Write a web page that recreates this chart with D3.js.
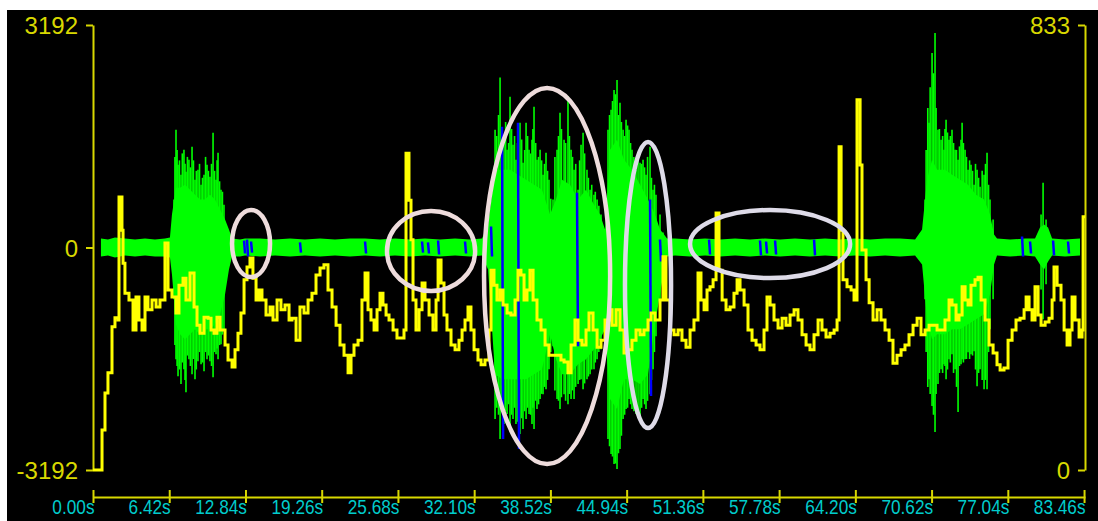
<!DOCTYPE html>
<html><head><meta charset="utf-8">
<script src="https://cdn.jsdelivr.net/npm/d3@7"></script>
<style>html,body{margin:0;padding:0;background:#fff;overflow:hidden}svg{display:block}</style>
</head><body>
<svg id="c" width="1098" height="521"></svg>
<script>
// ---------------- DATA ----------------
const timeTicks = [0, 6.42, 12.84, 19.26, 25.68, 32.10, 38.52, 44.94, 51.36, 57.78, 64.20, 70.62, 77.04, 83.46];
const ampTicks = [-3192, 0, 3192];
const pitchTicks = [0, 833];
const timeMax = 83.54;

// waveform body envelope: [time s, max, min]
const waveCore = [
[0.67,129,-129],[1.26,114,-114],[1.85,143,-143],[2.69,129,-114],[3.54,114,-129],[4.38,129,-114],[5.22,114,-129],[6.06,129,-129],
[6.48,143,-143],[6.65,472,-386],[6.99,858,-1102],[7.33,858,-1245],[7.75,902,-1317],[8.17,830,-1245],[8.59,758,-1173],[9.01,687,-1245],
[9.43,687,-1173],[9.85,758,-1173],[10.27,687,-1102],[10.70,544,-958],[11.12,401,-672],[11.45,258,-315],[11.71,129,-129],[12.38,114,-129],
[12.80,129,-114],[14.06,129,-129],[15.33,114,-114],[16.59,129,-129],[17.85,114,-114],[19.12,129,-129],[20.38,114,-114],[21.64,129,-129],
[22.91,129,-114],[24.17,114,-129],[25.43,129,-114],[26.70,114,-129],[27.96,129,-114],[29.22,114,-129],[30.49,129,-114],[31.75,114,-129],
[32.76,129,-114],[33.27,329,-315],[33.86,1116,-1817],[34.45,1116,-1889],[35.12,1116,-1889],[35.79,1045,-1889],[36.47,973,-1889],[37.14,902,-1817],
[37.81,830,-1746],[38.49,472,-1245],[38.99,687,-1603],[39.50,973,-1817],[40.17,902,-1817],[40.85,687,-1674],[41.52,830,-1603],[42.19,615,-1460],
[42.70,472,-1317],[43.12,258,-1173],[43.54,1402,-2175],[44.13,1545,-2318],[44.72,1259,-1889],[45.39,1116,-1889],[46.07,902,-1960],[46.74,687,-1817],
[47.33,472,-1102],[47.75,258,-672],[48.09,186,-315],[48.34,129,-129],[49.01,129,-114],[50.28,114,-129],[51.54,129,-114],[52.81,114,-129],
[54.07,129,-114],[55.33,114,-129],[56.59,129,-114],[57.86,114,-129],[59.12,129,-114],[60.38,114,-129],[61.65,129,-114],[62.91,114,-129],
[64.17,129,-114],[65.44,114,-129],[66.70,129,-114],[67.96,129,-129],[69.23,114,-114],[69.82,258,-243],[70.24,973,-1030],[70.66,1259,-1317],
[71.08,1116,-1245],[71.75,1116,-1245],[72.34,1045,-1173],[73.02,973,-1173],[73.69,902,-1102],[74.36,758,-1030],[75.04,687,-958],[75.54,472,-672],
[75.88,186,-243],[76.13,129,-114],[77.23,114,-129],[78.49,129,-114],[79.33,129,-129],[79.75,286,-243],[80.09,329,-315],[80.43,286,-200],
[80.77,129,-114],[81.86,114,-129],[83.12,129,-114]
];

// individual waveform peaks: [time s, max, min]
const waveSpikes = [
[6.82,687,-744],[6.99,1689,-1603],[7.16,1188,-1846],[7.41,1045,-1960],[7.66,1402,-1746],[7.83,1088,-2075],[8.08,1259,-1603],[8.34,1445,-1817],
[8.59,973,-1889],[8.84,1116,-1631],[9.10,902,-1674],[9.35,1045,-1774],[9.60,1188,-1603],[9.85,1016,-1631],[10.11,1646,-1860],[10.36,973,-1531],
[10.53,1360,-1603],[10.78,830,-1388],[11.03,615,-1173],
[6.90,1300,-1400],[7.08,1400,-1700],[7.28,1250,-1750],[7.52,1350,-1650],[7.75,1200,-1900],[7.95,1300,-1550],[8.20,1150,-1700],[8.46,1250,-1600],
[8.70,1100,-1750],[8.97,1200,-1500],[9.22,1000,-1650],[9.48,1300,-1500],[9.72,1100,-1550],[9.98,1200,-1700],[10.24,1100,-1500],[10.45,1250,-1450],
[10.66,950,-1400],[10.90,800,-1250],
[33.27,329,-200],[33.86,1689,-2461],[34.28,2440,-2748],[34.61,1545,-2533],[34.87,1402,-2390],[35.12,2161,-2604],[35.37,1474,-2461],[35.62,1259,-2533],
[35.96,1789,-2676],[36.21,1216,-2604],[36.47,1789,-2461],[36.72,1402,-2390],[36.97,1545,-2533],[37.14,2018,-2604],[37.39,1259,-2318],[37.65,1402,-2175],
[37.90,1045,-2104],[38.15,1360,-2032],[38.40,973,-1746],[38.74,687,-1417],[39.08,1402,-2175],[39.33,1932,-2318],[39.67,1545,-2104],[40.00,2175,-2247],
[40.26,1402,-2175],[40.51,1116,-2175],[40.85,830,-1960],[41.10,1474,-1889],[41.27,1646,-2032],[41.60,1116,-1889],[41.86,830,-1817],[42.19,758,-1746],
[42.45,687,-1603],[42.78,472,-1460],
[34.00,1600,-2300],[34.15,1900,-2400],[34.40,1700,-2300],[34.75,1800,-2350],[35.00,1500,-2250],[35.25,1700,-2400],[35.50,1600,-2300],[35.75,1500,-2500],
[36.10,1550,-2450],[36.35,1400,-2350],[36.60,1600,-2300],[36.85,1350,-2400],[37.05,1700,-2300],[37.28,1500,-2200],[37.52,1300,-2250],[37.78,1250,-2100],
[38.02,1200,-2000],[38.28,1100,-1900],[38.55,700,-1500],[38.90,1300,-2050],[39.20,1600,-2200],[39.45,1700,-2150],[39.80,1500,-2200],[40.12,1600,-2100],
[40.38,1300,-2050],[40.65,1200,-2000],[40.98,1250,-1900],[41.40,1350,-1950],[41.72,1000,-1850],[42.00,900,-1750],[42.30,800,-1650],[42.60,600,-1500],
[43.37,1689,-2748],[43.63,1975,-2962],[43.88,2261,-3105],[44.13,2404,-3177],[44.38,2075,-2891],[44.64,1689,-2461],[44.89,1832,-2318],[45.14,1689,-2175],
[45.39,1402,-2318],[45.73,1116,-2390],[46.07,1216,-2461],[46.32,1259,-2175],[46.57,1045,-2318],[46.91,1445,-2104],[47.16,830,-1746],[47.41,758,-1274],
[47.75,472,-744],[48.00,215,-558],
[43.50,1900,-2850],[43.75,2100,-3000],[44.00,2200,-3100],[44.25,1900,-2950],[44.50,1800,-2700],[44.77,1600,-2400],[45.02,1750,-2300],[45.27,1500,-2250],
[45.55,1300,-2350],[45.90,1350,-2400],[46.20,1200,-2300],[46.45,1150,-2250],[46.70,1300,-2200],[47.03,1000,-1900],[47.28,900,-1500],
[70.07,687,-744],[70.41,1789,-1889],[70.66,2790,-2275],[70.91,3077,-2647],[71.16,1689,-1960],[71.42,1545,-1746],[71.67,1402,-1674],[71.84,1832,-1889],
[72.09,1545,-1603],[72.34,1689,-1531],[72.60,1402,-1746],[72.85,1259,-2361],[73.10,1545,-1674],[73.19,1789,-1603],[73.44,1402,-1603],[73.69,1116,-1503],
[73.94,1188,-1531],[74.20,902,-1488],[74.45,1116,-1989],[74.70,873,-1746],[75.04,1045,-2032],[75.29,1360,-2032],[75.54,687,-1173],[75.80,401,-744],
[70.16,1400,-1500],[70.30,2000,-2000],[70.50,2300,-2100],[70.78,2500,-2400],[71.00,2000,-2100],[71.28,1700,-1800],[71.55,1600,-1800],[71.75,1700,-1700],
[71.96,1650,-1750],[72.20,1600,-1650],[72.47,1500,-1800],[72.72,1400,-2000],[72.97,1450,-1700],[73.30,1500,-1650],[73.56,1300,-1600],[73.82,1250,-1600],
[74.07,1100,-1550],[74.32,1200,-1750],[74.58,1000,-1800],[74.88,1100,-1900],[75.16,1200,-1900],[75.42,900,-1500],
[79.84,472,-601],[80.01,930,-1030],[80.26,401,-529]
];

// highlighted (blue) portions of the waveform: [time s, max, min]
const waveMarks = [
[12.72,100,-86],[12.97,114,-129],[13.31,86,-72],[17.43,72,-72],[22.91,86,-86],[27.71,86,-72],[28.21,72,-86],[29.06,100,-100],
[31.33,86,-86],[33.52,301,-129],[34.45,1732,-2748],[35.79,1789,-2891],[40.76,787,-1417],[46.91,687,-2132],[47.75,114,-200],[51.88,114,-100],
[56.17,100,-114],[56.68,86,-86],[57.44,100,-100],[60.72,114,-114],[78.24,157,-129],[78.91,86,-86],[80.85,100,-114],[82.11,86,-86]
];

// second curve (right axis): [time s, value]
const pitchPoints = [
[0,0],[0.67,0],[0.76,75],[1.01,144],[1.26,182],[1.60,268],[1.85,285],[2.11,281],[2.19,511],[2.44,449],[2.53,387],[2.69,331],[3.03,318],[3.37,262],
[3.62,324],[3.87,281],[4.13,262],[4.38,324],[4.63,300],[4.97,318],[5.31,305],[5.64,318],[6.06,425],[6.32,337],[6.65,324],[6.99,294],[7.24,346],
[7.58,359],[7.83,318],[8.17,369],[8.51,305],[8.76,271],[9.01,256],[9.35,286],[9.69,284],[9.94,262],[10.19,256],[10.44,286],[10.70,262],[11.12,234],
[11.37,206],[11.71,193],[11.96,225],[12.21,256],[12.46,294],[12.72,356],[12.97,380],[13.22,397],[13.47,359],[13.73,318],[13.98,337],[14.23,318],
[14.57,290],[14.91,305],[15.16,281],[15.50,318],[15.83,300],[16.17,309],[16.51,281],[16.76,284],[17.10,243],[17.43,305],[17.77,294],[18.11,318],
[18.44,331],[18.78,365],[19.12,378],[19.45,384],[19.79,337],[20.13,305],[20.47,271],[20.80,234],[21.14,215],[21.48,182],[21.73,215],[21.98,234],
[22.32,243],[22.65,318],[22.91,369],[23.16,300],[23.41,281],[23.67,262],[23.92,300],[24.17,331],[24.42,309],[24.68,290],[24.93,281],[25.27,262],
[25.60,247],[25.94,247],[26.19,262],[26.36,593],[26.61,505],[26.78,431],[26.95,318],[27.20,262],[27.46,300],[27.71,350],[27.96,318],[28.30,290],
[28.63,262],[28.89,318],[29.06,393],[29.31,350],[29.56,290],[29.81,262],[30.15,234],[30.49,225],[30.82,243],[31.08,262],[31.33,281],[31.58,305],
[31.83,262],[32.09,225],[32.42,206],[32.68,197],[33.01,206],[33.35,262],[33.52,374],[33.77,346],[34.02,318],[34.28,337],[34.53,309],[34.87,294],
[35.20,290],[35.54,318],[35.79,374],[36.04,365],[36.30,318],[36.55,337],[36.80,374],[37.06,318],[37.39,281],[37.73,262],[38.07,234],[38.40,215],
[38.74,215],[39.08,215],[39.41,206],[39.67,202],[40.00,182],[40.26,234],[40.59,281],[40.85,243],[41.18,234],[41.52,262],[41.77,294],[42.11,262],
[42.45,230],[42.78,243],[43.12,281],[43.46,300],[43.71,271],[44.05,300],[44.38,262],[44.72,219],[45.06,225],[45.39,243],[45.73,262],[46.07,253],
[46.40,262],[46.74,281],[46.99,294],[47.33,281],[47.75,318],[48.00,399],[48.25,318],[48.59,262],[48.93,253],[49.27,262],[49.60,243],[49.94,230],
[50.28,262],[50.61,281],[50.95,369],[51.20,318],[51.46,300],[51.71,337],[51.96,343],[52.22,356],[52.47,481],[52.72,374],[52.98,318],[53.31,300],
[53.65,305],[53.98,331],[54.24,356],[54.49,337],[54.83,309],[55.16,262],[55.50,243],[55.84,234],[56.17,225],[56.51,262],[56.76,324],[57.02,309],
[57.35,281],[57.69,266],[58.03,284],[58.36,271],[58.70,290],[59.04,300],[59.37,281],[59.71,253],[60.05,234],[60.38,225],[60.72,253],[61.06,281],
[61.39,262],[61.73,249],[62.07,256],[62.41,262],[62.66,281],[62.83,605],[63.00,449],[63.16,356],[63.50,343],[63.84,337],[64.09,318],[64.34,693],
[64.60,571],[64.76,412],[65.10,356],[65.36,313],[65.69,281],[66.03,300],[66.36,281],[66.70,262],[67.04,243],[67.37,200],[67.71,215],[68.05,225],
[68.38,234],[68.72,253],[69.06,271],[69.40,284],[69.73,253],[70.07,262],[70.41,271],[70.74,271],[71.08,262],[71.42,262],[71.75,281],[72.09,318],
[72.34,309],[72.68,281],[72.93,290],[73.19,343],[73.44,318],[73.69,309],[73.94,346],[74.28,356],[74.53,361],[74.79,318],[75.12,281],[75.46,234],
[75.80,219],[76.13,197],[76.39,187],[76.72,191],[77.06,243],[77.40,262],[77.73,281],[78.07,284],[78.41,300],[78.58,324],[78.83,300],[79.08,281],
[79.33,343],[79.59,290],[79.84,271],[80.18,277],[80.51,284],[80.77,318],[80.93,380],[81.19,346],[81.52,318],[81.78,262],[82.03,234],[82.28,262],
[82.45,324],[82.70,281],[83.04,249],[83.29,262],[83.38,474],[83.54,474]
];

// annotation ellipses: [center time s, center amplitude, half-width s, half-height amplitude]
const notes = [
[13.31, 57, 1.60, 481],
[28.47, -50, 3.71, 574],
[38.24, -409, 5.31, 2698],
[46.74, -538, 1.94, 2052],
[57.02, 50, 6.74, 488]
];

// ---------------- DRAWING ----------------
const W = 1098, H = 521;
const svg = d3.select('#c');
svg.append('rect').attr('x', 7).attr('y', 10).attr('width', W - 7).attr('height', H - 10).attr('fill', '#000');

const x = d3.scaleLinear().domain([0, timeMax]).range([93, 1085]);
const yL = d3.scaleLinear().domain([-3192, 3192]).range([470, 25]);
const yR = d3.scaleLinear().domain([0, 833]).range([470, 25]);

const axisColor = '#d8d800';
const labelCyan = '#00cccc';
const noteColors = ['#eedcdc', '#eedcdc', '#eedcdc', '#dedbe8', '#dedbe8'];
const fontFam = 'Liberation Sans, Arial, sans-serif';

function styleAxis(g) {
  g.select('.domain').attr('stroke', axisColor).attr('stroke-width', 2);
  g.selectAll('.tick line').attr('stroke', axisColor).attr('stroke-width', 2);
}

// left axis
const gL = svg.append('g').attr('transform', 'translate(93,0)')
  .call(d3.axisLeft(yL).tickValues(ampTicks).tickSize(7).tickSizeOuter(0).tickPadding(8).tickFormat(d => String(d)));
styleAxis(gL);
gL.selectAll('.tick text').attr('fill', axisColor).attr('font-family', fontFam).attr('font-size', 24).attr('dy', '0.36em');

// right axis
const gR = svg.append('g').attr('transform', 'translate(1085,0)')
  .call(d3.axisLeft(yR).tickValues(pitchTicks).tickSize(7).tickSizeOuter(0).tickPadding(8).tickFormat(d => String(d)));
styleAxis(gR);
gR.selectAll('.tick text').attr('fill', axisColor).attr('font-family', fontFam).attr('font-size', 24).attr('dy', '0.36em');

// bottom axis
const gB = svg.append('g').attr('transform', 'translate(0,497)')
  .call(d3.axisBottom(x).tickValues(timeTicks).tickSize(6).tickSizeOuter(0).tickFormat(d => d.toFixed(2) + 's'));
styleAxis(gB);
gB.selectAll('.tick line').attr('y1', -7).attr('y2', 6);
gB.selectAll('.tick text').attr('fill', labelCyan).attr('font-family', fontFam)
  .attr('font-size', 21).attr('text-anchor', 'end').attr('x', 1).attr('y', 17).attr('dy', 0)
  .each(function () { const w = this.getComputedTextLength(); d3.select(this).attr('textLength', w * 0.82).attr('lengthAdjust', 'spacingAndGlyphs'); });

// waveform body
const area = d3.area().x(d => x(d[0])).y0(d => yL(d[2])).y1(d => yL(d[1])).curve(d3.curveLinear);
svg.append('path').datum(waveCore).attr('d', area).attr('fill', '#00ff00');

// waveform peaks
svg.append('g').selectAll('line').data(waveSpikes).join('line')
  .attr('x1', d => x(d[0])).attr('x2', d => x(d[0]))
  .attr('y1', d => yL(d[1])).attr('y2', d => yL(d[2]))
  .attr('stroke', '#00ff00').attr('stroke-width', 1.6);

// highlighted portions
svg.append('g').selectAll('line').data(waveMarks).join('line')
  .attr('x1', d => x(d[0])).attr('x2', d => x(d[0]) + 1)
  .attr('y1', d => yL(d[1])).attr('y2', d => yL(d[2]))
  .attr('stroke', '#0000ff').attr('stroke-width', 2.5);

// yellow curve
const line = d3.line().x(d => x(d[0])).y(d => yR(d[1])).curve(d3.curveStepAfter);
svg.append('path').datum(pitchPoints).attr('d', line)
  .attr('fill', 'none').attr('stroke', '#ffff00').attr('stroke-width', 3).attr('stroke-linejoin', 'miter');

// annotation ellipses
svg.append('g').selectAll('ellipse').data(notes).join('ellipse')
  .attr('cx', d => x(d[0])).attr('cy', d => yL(d[1]))
  .attr('rx', d => x(d[2]) - x(0)).attr('ry', d => yL(0) - yL(d[3]))
  .attr('fill', 'none').attr('stroke', (d, i) => noteColors[i]).attr('stroke-width', 4.5);
</script>
</body></html>
